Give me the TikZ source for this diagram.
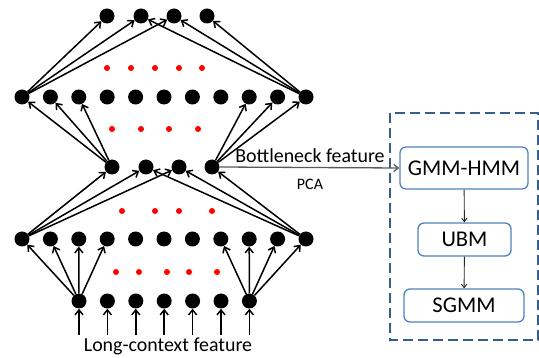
\documentclass[tikz,border=0pt]{standalone}
\usepackage{fontspec}
\setmainfont{Carlito}
\usetikzlibrary{arrows.meta}
\definecolor{boxblue}{RGB}{79,129,189}
\definecolor{dashblue}{RGB}{56,93,138}
\definecolor{lgray}{RGB}{89,89,89}
\begin{document}
\begin{tikzpicture}[x=1pt,y=-1pt,
  neuron/.style={circle,fill=black,inner sep=0pt,minimum size=15pt},
  rdot/.style={circle,fill=red,inner sep=0pt,minimum size=6pt},
  conn/.style={-{Straight Barb[length=5pt,width=8pt]},line width=1.5pt,black},
  flow/.style={-{Straight Barb[length=3.5pt,width=5.5pt]},line width=0.9pt,black!85},
  stage/.style={draw=boxblue,line width=1.3pt,rounded corners=6pt,inner sep=0pt,
    font=\fontsize{22.5}{26}\selectfont},
  lbl/.style={inner sep=0pt,anchor=base,font=\fontsize{19.9}{24}\selectfont}]
\useasboundingbox (0,0) rectangle (539,358);

% layers
\foreach \x [count=\i] in {107,141,174,207} \node[neuron] (t\i) at (\x,16) {};
\foreach \i in {1,...,11} \node[neuron] (h\i) at ({22+28.4*(\i-1)},97) {};
\foreach \x [count=\i] in {112,146,179,212} \node[neuron] (b\i) at (\x,167) {};
\foreach \i in {1,...,11} \node[neuron] (l\i) at ({22+28.4*(\i-1)},239) {};
\foreach \i in {1,...,7} \node[neuron] (i\i) at ({79+28.4*(\i-1)},301) {};

% red dots
\foreach \x [count=\i] in {107,131,155,179,202} \node[rdot] (ra\i) at (\x,68) {};
\foreach \x [count=\i] in {112,141,169,198} \node[rdot] (rb\i) at (\x,129) {};
\foreach \x [count=\i] in {122,155,179,212} \node[rdot] (rc\i) at (\x,211) {};
\foreach \x [count=\i] in {116,139,167,189,217} \node[rdot] (rd\i) at (\x,272) {};

% connections
\foreach \j in {1,2,3} \draw[conn] (h1) -- (t\j);
\foreach \j in {2,3,4} \draw[conn] (h11) -- (t\j);
\foreach \j in {1,2,3} \draw[conn] (b1) -- (h\j);
\foreach \j in {9,10,11} \draw[conn] (b4) -- (h\j);
\foreach \j in {1,2,3} \draw[conn] (l1) -- (b\j);
\foreach \j in {2,3,4} \draw[conn] (l11) -- (b\j);
\foreach \j in {1,...,4} \draw[conn] (i1) -- (l\j);
\foreach \j in {8,...,11} \draw[conn] (i7) -- (l\j);
\foreach \i in {1,...,7} {
  \path (i\i) ++(0,34) coordinate (s\i);
  \draw[conn] (s\i) -- (i\i);
}

\node[lbl] (ctx) at (168,352) {Long-context feature};

% right panel
\draw[dashblue,line width=2pt,dash pattern=on 10pt off 5pt] (390,113) rectangle (538,340);
\node[stage,minimum width=128pt,minimum height=42pt] (gmm) at (464,168) {GMM-HMM};
\node[stage,minimum width=93pt,minimum height=33pt] (ubm) at (464.5,239.5) {UBM};
\node[stage,minimum width=120pt,minimum height=33pt] (sgmm) at (464,305.5) {SGMM};
\draw[flow] (gmm) -- (ubm);
\draw[flow] (ubm) -- (sgmm);

\draw[-{Straight Barb[length=4.5pt,width=7pt]},line width=1.3pt,lgray] (b4.east) -- (gmm.west);
\node[lbl] (bn) at (310,163) {Bottleneck feature};
\node[inner sep=0pt,anchor=base,font=\fontsize{16}{19}\selectfont] (pca) at (310,190) {PCA};
\end{tikzpicture}
\end{document}
